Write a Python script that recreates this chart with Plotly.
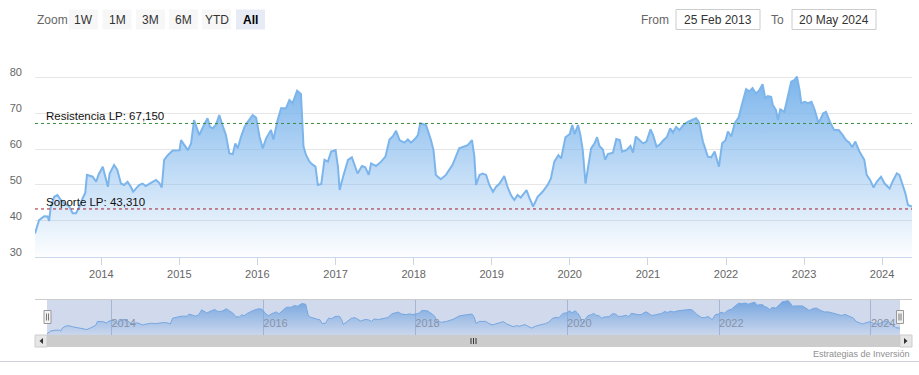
import plotly.graph_objects as go

W, H = 919, 375

dates = [
    "2013-02-25", "2013-03-16", "2013-04-09", "2013-04-25", "2013-05-02", "2013-05-10", "2013-05-26",
    "2013-06-10", "2013-06-26", "2013-07-11", "2013-08-04", "2013-08-20", "2013-09-05", "2013-09-21",
    "2013-10-06", "2013-10-18", "2013-10-26", "2013-11-22", "2013-12-08", "2013-12-20", "2014-01-08",
    "2014-01-21", "2014-02-01", "2014-02-09", "2014-03-02", "2014-03-17", "2014-04-03", "2014-04-18",
    "2014-05-04", "2014-05-19", "2014-05-30", "2014-06-12", "2014-06-27", "2014-07-13", "2014-07-28",
    "2014-08-21", "2014-09-14", "2014-09-29", "2014-10-11", "2014-10-22", "2014-11-08", "2014-12-01",
    "2015-01-02", "2015-01-09", "2015-01-25", "2015-02-10", "2015-02-25", "2015-03-11", "2015-03-22",
    "2015-04-04", "2015-04-19", "2015-05-02", "2015-05-13", "2015-05-24", "2015-06-06", "2015-06-21",
    "2015-07-07", "2015-07-19", "2015-08-07", "2015-08-23", "2015-09-08", "2015-09-20", "2015-10-01",
    "2015-10-17", "2015-11-02", "2015-11-17", "2015-12-10", "2015-12-26", "2016-01-11", "2016-01-26",
    "2016-02-11", "2016-03-05", "2016-03-16", "2016-04-05", "2016-04-21", "2016-05-14", "2016-05-30",
    "2016-06-14", "2016-07-05", "2016-07-23", "2016-08-04", "2016-08-16", "2016-09-01", "2016-09-17",
    "2016-09-29", "2016-10-10", "2016-10-26", "2016-11-10", "2016-11-26", "2016-12-11", "2017-01-01",
    "2017-01-12", "2017-01-20", "2017-02-05", "2017-02-28", "2017-03-18", "2017-03-29", "2017-04-14",
    "2017-05-04", "2017-05-20", "2017-06-05", "2017-06-16", "2017-07-09", "2017-08-02", "2017-08-22",
    "2017-09-10", "2017-09-26", "2017-10-11", "2017-10-27", "2017-11-19", "2017-12-05", "2017-12-20",
    "2018-01-10", "2018-01-21", "2018-02-01", "2018-02-28", "2018-03-23", "2018-04-04", "2018-04-15",
    "2018-05-08", "2018-06-01", "2018-07-02", "2018-08-02", "2018-09-11", "2018-10-01", "2018-10-12",
    "2018-10-20", "2018-11-05", "2018-11-20", "2018-12-06", "2018-12-21", "2019-01-07", "2019-01-22",
    "2019-02-07", "2019-03-01", "2019-03-16", "2019-04-01", "2019-04-17", "2019-05-02", "2019-05-17",
    "2019-06-02", "2019-06-13", "2019-06-26", "2019-07-14", "2019-08-04", "2019-08-27", "2019-09-20",
    "2019-10-05", "2019-10-21", "2019-11-09", "2019-11-22", "2019-12-12", "2020-01-01", "2020-01-13",
    "2020-01-24", "2020-02-09", "2020-02-20", "2020-03-02", "2020-03-15", "2020-03-26", "2020-04-10",
    "2020-04-26", "2020-05-08", "2020-05-19", "2020-06-04", "2020-06-15", "2020-06-27", "2020-07-21",
    "2020-08-06", "2020-08-22", "2020-09-02", "2020-09-22", "2020-10-11", "2020-10-23", "2020-11-05",
    "2020-11-23", "2020-12-09", "2020-12-25", "2021-01-13", "2021-01-25", "2021-02-10", "2021-02-26",
    "2021-03-14", "2021-03-30", "2021-04-15", "2021-04-27", "2021-05-13", "2021-05-28", "2021-06-16",
    "2021-07-06", "2021-07-30", "2021-08-14", "2021-08-27", "2021-09-15", "2021-10-08", "2021-10-24",
    "2021-11-09", "2021-11-29", "2021-12-14", "2021-12-30", "2022-01-10", "2022-01-26", "2022-02-11",
    "2022-03-01", "2022-03-16", "2022-04-05", "2022-04-20", "2022-05-05", "2022-05-21", "2022-06-06",
    "2022-06-21", "2022-07-04", "2022-07-15", "2022-07-31", "2022-08-08", "2022-08-23", "2022-09-01",
    "2022-09-12", "2022-10-01", "2022-10-17", "2022-11-02", "2022-11-18", "2022-11-29", "2022-12-11",
    "2022-12-19", "2023-01-04", "2023-01-19", "2023-02-05", "2023-02-20", "2023-03-10", "2023-04-01",
    "2023-04-14", "2023-05-02", "2023-05-22", "2023-06-12", "2023-07-01", "2023-07-16", "2023-08-01",
    "2023-08-14", "2023-08-29", "2023-09-17", "2023-10-10", "2023-10-21", "2023-11-06", "2023-11-22",
    "2023-12-07", "2023-12-27", "2024-01-13", "2024-02-05", "2024-02-21", "2024-03-10", "2024-03-22",
    "2024-04-07", "2024-04-19", "2024-05-01", "2024-05-20",
]

prices = [
    36.5, 40.2, 41.3, 41.2, 40.0, 44.0, 46.7,
    47.2, 45.8, 44.9, 44.0, 42.1, 42.1, 44.0,
    46.3, 47.8, 52.8, 52.3, 50.9, 53.0, 55.1,
    52.3, 49.5, 53.2, 55.6, 54.2, 50.4, 50.0,
    50.9, 49.5, 48.1, 49.0, 50.0, 50.4, 49.7,
    50.6, 51.4, 50.6, 49.3, 57.0, 58.3, 59.6,
    59.7, 62.5, 61.1, 59.7, 61.6, 68.1, 66.2,
    63.9, 65.8, 67.2, 68.6, 66.2, 65.8, 66.7,
    69.5, 67.2, 63.9, 58.8, 58.6, 61.6, 60.2,
    63.5, 66.2, 67.6, 69.5, 68.8, 63.5, 60.2,
    63.0, 65.3, 62.7, 68.1, 71.4, 71.4, 73.7,
    72.8, 76.3, 75.4, 60.7, 58.3, 56.5, 55.6,
    55.1, 50.0, 50.3, 57.0, 56.5, 59.3, 59.7,
    55.1, 48.6, 52.3, 57.0, 57.7, 56.0, 53.2,
    55.3, 54.9, 52.8, 56.0, 55.3, 56.5, 57.9,
    62.7, 63.6, 65.1, 62.5, 61.8, 62.7, 61.8,
    63.0, 63.9, 67.2, 66.7, 62.5, 59.7, 52.8,
    51.6, 52.8, 55.6, 60.2, 61.1, 62.5, 57.9,
    50.0, 52.8, 53.2, 52.8, 50.0, 48.1, 49.5,
    50.4, 52.5, 49.5, 47.2, 45.8, 47.2, 46.5,
    47.7, 48.6, 46.5, 44.0, 46.7, 48.1, 50.0,
    51.8, 56.5, 58.3, 57.4, 63.3, 64.2, 66.7,
    64.2, 66.7, 63.9, 59.7, 50.4, 55.1, 60.2,
    61.6, 63.3, 60.9, 59.9, 57.0, 58.6, 59.0,
    62.8, 62.5, 59.3, 59.7, 60.9, 59.0, 63.5,
    62.5, 61.6, 62.1, 65.5, 63.9, 60.7, 61.3,
    62.5, 63.3, 65.8, 64.6, 66.2, 65.3, 66.7,
    67.6, 68.3, 68.6, 67.6, 62.1, 57.9, 57.7,
    59.3, 55.1, 61.6, 62.5, 64.9, 63.5, 67.2,
    68.8, 72.3, 76.7, 76.1, 77.0, 75.5, 76.4,
    78.1, 74.1, 74.8, 74.6, 72.3, 70.9, 68.1,
    71.1, 70.4, 74.6, 78.8, 79.3, 80.2, 76.5,
    72.8, 73.2, 72.8, 73.2, 70.9, 67.2, 70.0,
    70.4, 67.6, 65.3, 65.3, 63.9, 62.5, 61.8,
    60.5, 62.1, 59.3, 57.0, 52.8, 51.4, 49.3,
    50.9, 52.3, 50.4, 49.0, 51.2, 53.2, 52.8,
    50.0, 47.7, 44.4, 44.0,
]

resistance_value = 67.15
support_value = 43.31
resistance_label = "Resistencia LP: 67,150"
support_label = "Soporte LP: 43,310"

y_tick_values = [30, 40, 50, 60, 70, 80, 90]
y_tick_labels = ["30", "40", "50", "60", "70", "80", ""]
main_year_ticks = [str(y) for y in range(2014, 2025)]
nav_year_ticks = [str(y) for y in range(2014, 2025, 2)]

zoom_buttons = ["1W", "1M", "3M", "6M", "YTD", "All"]
from_date_text = "25 Feb 2013"
to_date_text = "20 May 2024"
credit_text = "Estrategias de Inversión"

FONT = "Liberation Sans, Arial, sans-serif"


def px(x):
    return x / W


def py(y):
    return 1 - y / H


fig = go.Figure()

fig.add_trace(go.Scatter(
    x=dates, y=prices, mode="lines",
    line=dict(color="#7cb5ec", width=2),
    fill="tozeroy",
    fillgradient=dict(type="vertical", start=30, stop=max(prices),
                      colorscale=[[0, "rgba(124,181,236,0.02)"], [1, "rgba(124,181,236,1)"]]),
    xaxis="x", yaxis="y", hoverinfo="x+y",
))

fig.add_trace(go.Scatter(
    x=dates, y=prices, mode="lines",
    line=dict(color="#7cb5ec", width=1),
    fill="tozeroy",
    fillgradient=dict(type="vertical", start=min(prices), stop=max(prices),
                      colorscale=[[0, "rgba(124,181,236,0.1)"], [1, "rgba(124,181,236,1)"]]),
    xaxis="x2", yaxis="y2", hoverinfo="skip",
))

shapes = []
annotations = []

# support / resistance lines
shapes.append(dict(type="line", xref="x domain", yref="y", x0=0, x1=1,
                   y0=resistance_value, y1=resistance_value,
                   line=dict(color="#3d8b3d", width=1, dash="dot"), layer="above"))
shapes.append(dict(type="line", xref="x domain", yref="y", x0=0, x1=1,
                   y0=support_value, y1=support_value,
                   line=dict(color="#a3202e", width=1, dash="dot"), layer="above"))
annotations.append(dict(text=resistance_label, xref="paper", yref="y", x=px(44), y=resistance_value,
                        xanchor="left", yanchor="bottom", showarrow=False, yshift=-1,
                        font=dict(family=FONT, size=11.5, color="#111")))
annotations.append(dict(text=support_label, xref="paper", yref="y", x=px(44), y=support_value,
                        xanchor="left", yanchor="bottom", showarrow=False, yshift=-1,
                        font=dict(family=FONT, size=11.5, color="#111")))


def rect(x0, y0, x1, y1, fill, line=None, lw=1, layer="above"):
    shapes.append(dict(type="rect", xref="paper", yref="paper",
                       x0=px(x0), x1=px(x1), y0=py(y1), y1=py(y0),
                       fillcolor=fill, line=dict(color=line or fill, width=lw if line else 0),
                       layer=layer))


def hline(x0, x1, y, color, lw=1):
    shapes.append(dict(type="line", xref="paper", yref="paper",
                       x0=px(x0), x1=px(x1), y0=py(y), y1=py(y),
                       line=dict(color=color, width=lw), layer="above"))


def vline(x, y0, y1, color, lw=1):
    shapes.append(dict(type="line", xref="paper", yref="paper",
                       x0=px(x), x1=px(x), y0=py(y0), y1=py(y1),
                       line=dict(color=color, width=lw), layer="above"))


def path(pts, fill):
    d = "M " + " L ".join(f"{px(a):.5f},{py(b):.5f}" for a, b in pts) + " Z"
    shapes.append(dict(type="path", xref="paper", yref="paper", path=d,
                       fillcolor=fill, line=dict(color=fill, width=0), layer="above"))


def text(t, x, y, size=12, color="#333", xanchor="center", bold=False):
    annotations.append(dict(text=f"<b>{t}</b>" if bold else t, xref="paper", yref="paper",
                            x=px(x), y=py(y), xanchor=xanchor, yanchor="middle",
                            showarrow=False, font=dict(family=FONT, size=size, color=color)))


# range selector
text("Zoom", 35, 19.5, size=12, color="#666", xanchor="left")
btn_x = [69, 102.5, 136, 169, 202, 236]
for lbl, bx in zip(zoom_buttons, btn_x):
    sel = lbl == "All"
    rect(bx, 9.5, bx + 29, 29.5, "#e6ebf5" if sel else "#f7f7f7")
    text(lbl, bx + 14.5, 19.5, size=12, color="#000" if sel else "#333", bold=sel)

text("From", 655, 19.5, size=12, color="#666")
rect(676, 9.5, 760, 29.5, "white", line="#cccccc")
text(from_date_text, 718, 19.5, size=12, color="#333")
text("To", 777, 19.5, size=12, color="#666")
rect(792, 9.5, 876, 29.5, "white", line="#cccccc")
text(to_date_text, 834, 19.5, size=12, color="#333")

# navigator mask and outline
rect(47, 299.3, 900, 335, "rgba(102,133,194,0.3)")
hline(35, 912, 299.5, "#cccccc")

# scrollbar
rect(35, 335, 912, 347, "#f2f2f2")
rect(47, 335, 900, 347, "#cccccc")
rect(35, 335, 47, 347, "#e6e6e6", line="#cccccc")
rect(900, 335, 912, 347, "#e6e6e6", line="#cccccc")
path([(43, 338), (39.5, 341), (43, 344)], "#333")
path([(904, 338), (907.5, 341), (904, 344)], "#333")
for rx in (471, 473.5, 476):
    vline(rx, 338, 344, "#333")

# navigator handles
for hx in (47.5, 900):
    rect(hx - 3.5, 310.5, hx + 3.5, 323.5, "#f2f2f2", line="#999999")
    vline(hx - 1, 313.5, 320.5, "#777")
    vline(hx + 1, 313.5, 320.5, "#777")

# credit + page line
text(credit_text, 912, 354, size=9, color="#909090", xanchor="right")
hline(0, 919, 361.5, "#cfcfdd")

fig.update_layout(
    width=W, height=H,
    margin=dict(l=0, r=0, t=0, b=0),
    paper_bgcolor="white", plot_bgcolor="rgba(0,0,0,0)",
    showlegend=False,
    font=dict(family=FONT, size=11, color="#666"),
    shapes=shapes, annotations=annotations,
    xaxis=dict(
        domain=[px(35), px(912)], anchor="y", type="date",
        range=[dates[0], dates[-1]],
        tickvals=[f"{y}-01-01" for y in main_year_ticks], ticktext=main_year_ticks,
        ticks="outside", ticklen=7, tickcolor="#ccd6eb", tickwidth=1,
        showline=True, linecolor="#ccd6eb", linewidth=1,
        showgrid=False, zeroline=False,
        tickfont=dict(family=FONT, size=11, color="#666"),
        fixedrange=True,
    ),
    yaxis=dict(
        domain=[py(256.7), py(41.5)], anchor="x",
        range=[30, 90],
        tickvals=y_tick_values, ticktext=y_tick_labels,
        ticks="", showline=False, gridcolor="#e6e6e6", gridwidth=1, zeroline=False,
        ticklabelstandoff=12, ticklabelshift=-5,
        tickfont=dict(family=FONT, size=11, color="#666"),
        fixedrange=True,
    ),
    xaxis2=dict(
        domain=[px(47), px(900)], anchor="y2", type="date",
        range=[dates[0], dates[-1]],
        tickvals=[f"{y}-01-01" for y in nav_year_ticks], ticktext=nav_year_ticks,
        ticks="", ticklabelposition="inside right",
        showgrid=True, gridcolor="#c3cbdc", gridwidth=1,
        showline=False, zeroline=False,
        tickfont=dict(family=FONT, size=11, color="#999"),
        fixedrange=True,
    ),
    yaxis2=dict(
        domain=[py(335), py(299.3)], anchor="x2",
        range=[34.9, 81.9], visible=False, showgrid=False, zeroline=False,
        fixedrange=True,
    ),
)

fig.write_html("out.html", config={"displayModeBar": False},
               post_script="document.body.style.margin='0';")
